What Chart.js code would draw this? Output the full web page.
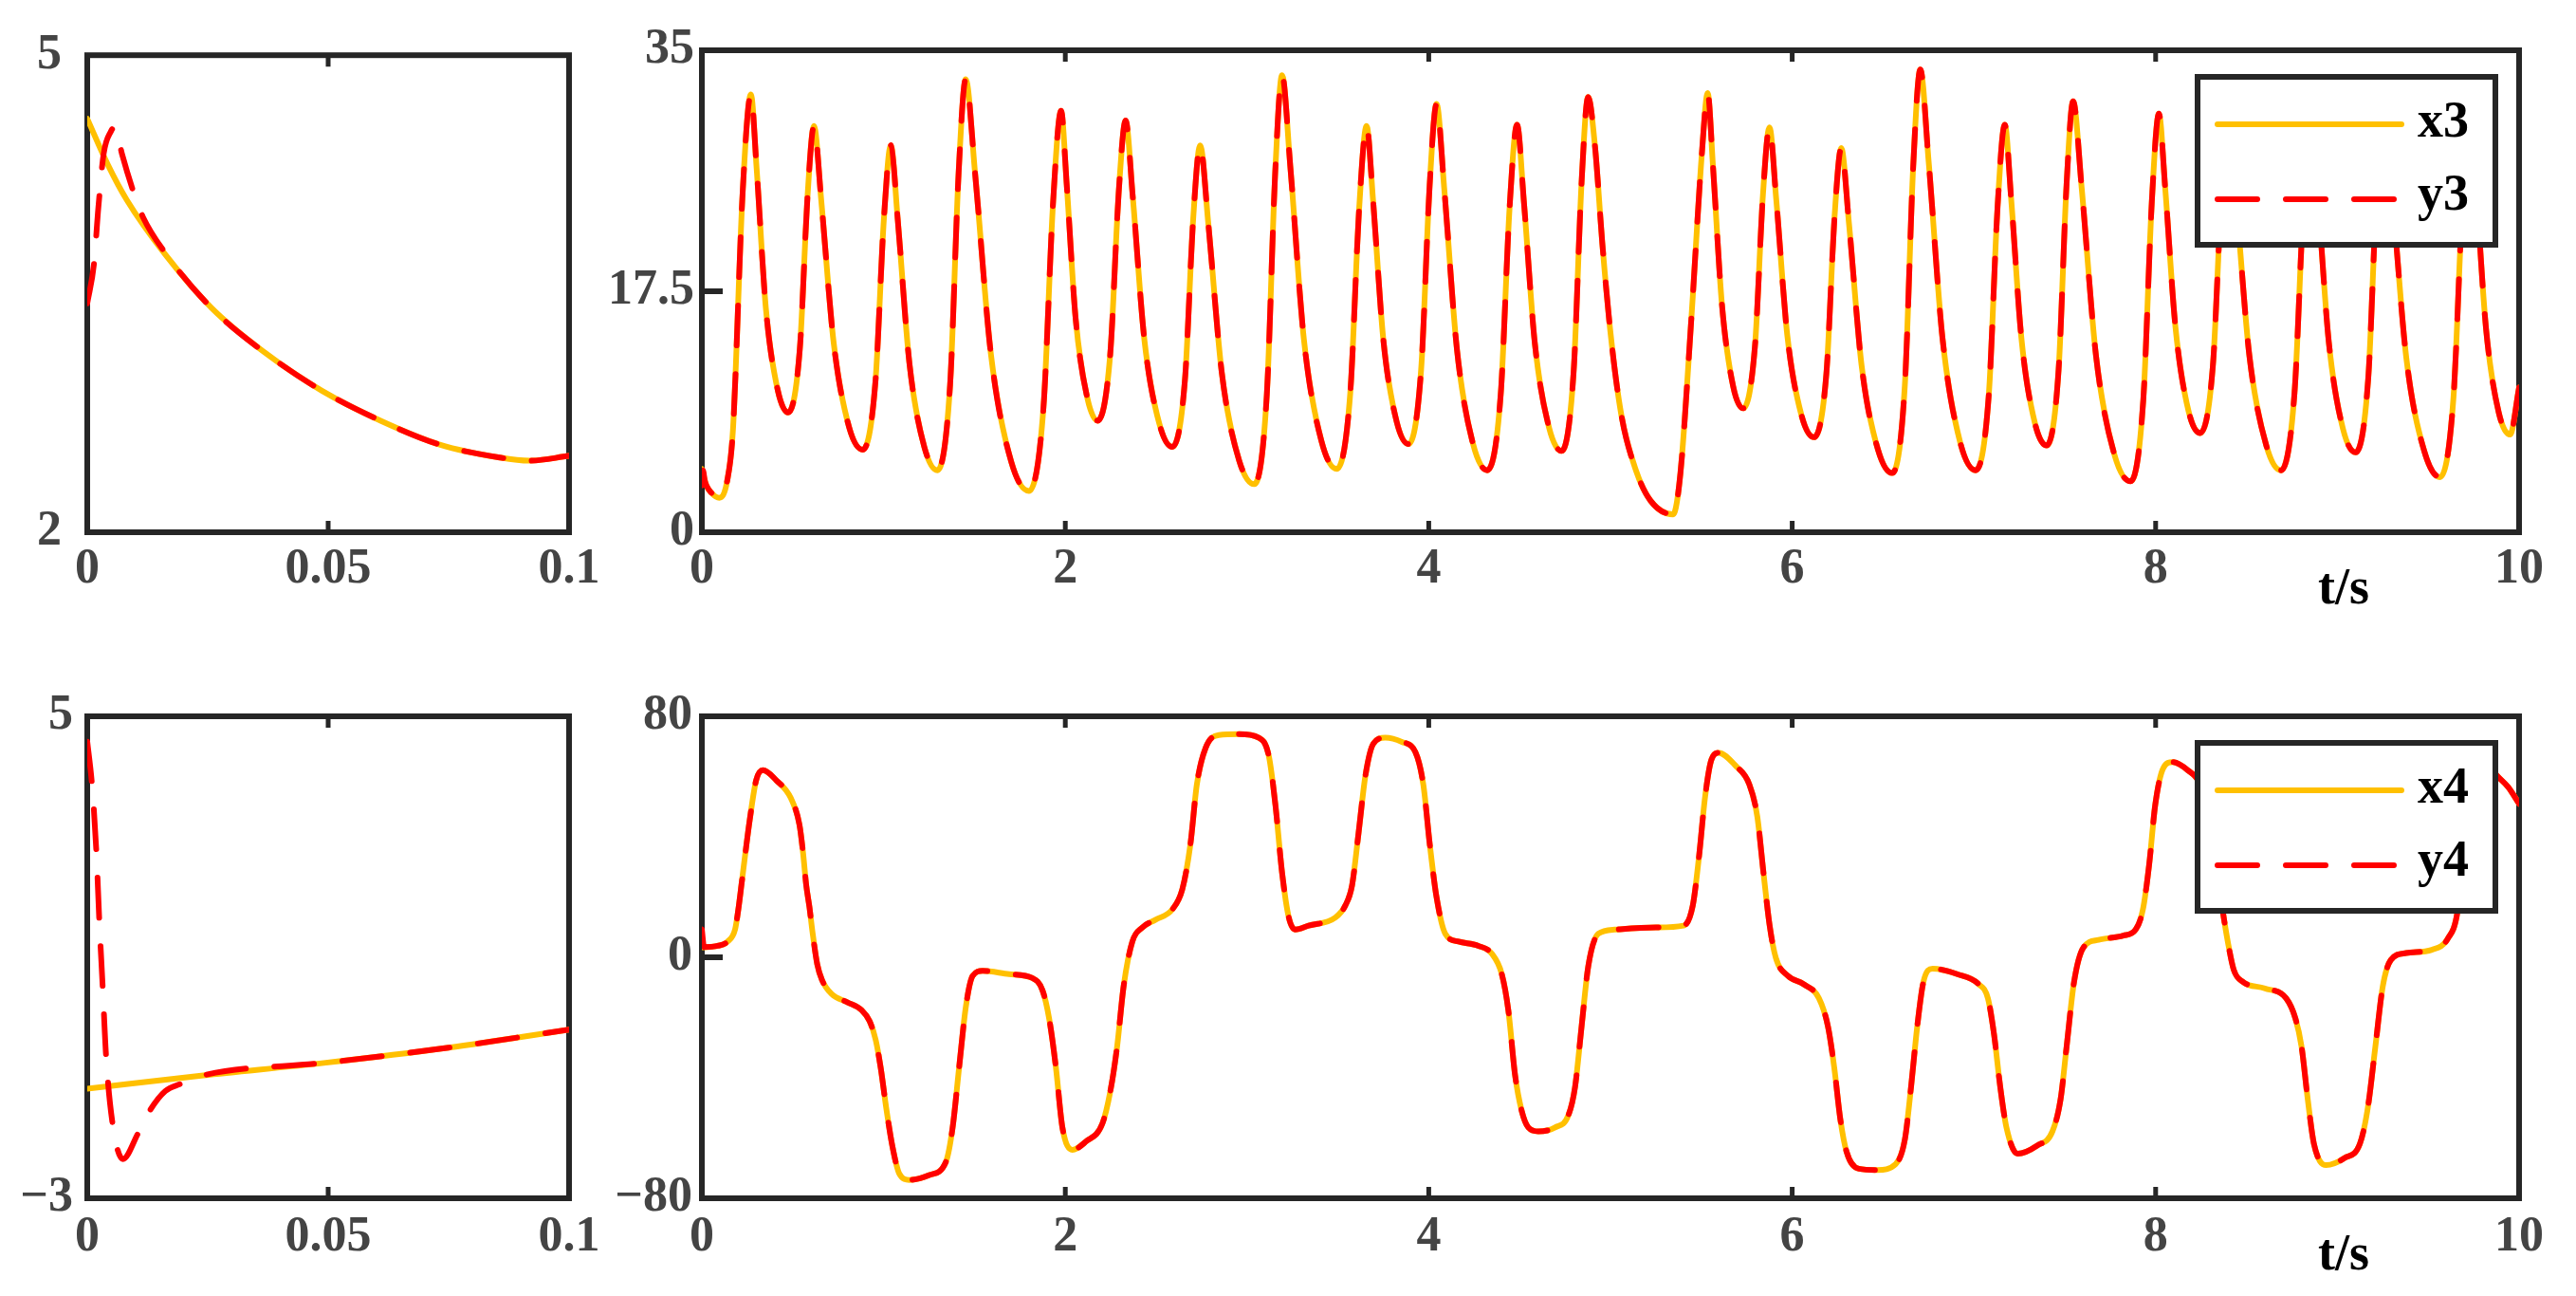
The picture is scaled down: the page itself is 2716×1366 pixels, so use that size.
<!DOCTYPE html>
<html>
<head>
<meta charset="utf-8">
<title>x3 / y3 and x4 / y4</title>
<script src="https://cdn.jsdelivr.net/npm/chart.js@4.4.1/dist/chart.umd.min.js"></script>
<style>
  html, body { margin: 0; padding: 0; background: #fff; }
  #wrap { position: relative; width: 2716px; height: 1366px; overflow: hidden; }
  canvas { position: absolute; }
</style>
</head>
<body>
<div id="wrap">
  <canvas id="zoom3" width="660" height="680" style="left:0;top:0"></canvas>
  <canvas id="full3" width="2076" height="680" style="left:640px;top:0"></canvas>
  <canvas id="zoom4" width="660" height="686" style="left:0;top:680px"></canvas>
  <canvas id="full4" width="2076" height="686" style="left:640px;top:680px"></canvas>
</div>
<script>
const YELLOW = '#FFC000';
const RED = '#FF0000';
const AXIS = '#262626';
const LABEL = '#444444';
const SERIF = "'Liberation Serif', 'Times New Roman', serif";

// tick values and labels
const xTicksZoom = [0, 0.05, 0.1];
const xLabelsZoom = ['0', '0.05', '0.1'];
const xTicksFull = [0, 2, 4, 6, 8, 10];
const xLabelsFull = ['0', '2', '4', '6', '8', '10'];
const yTicksZoom3 = [2, 5];
const yLabelsZoom3 = ['2', '5'];
const yTicksFull3 = [0, 17.5, 35];
const yLabelsFull3 = ['0', '17.5', '35'];
const yTicksZoom4 = [-3, 5];
const yLabelsZoom4 = ['\u22123', '5'];
const yTicksFull4 = [-80, 0, 80];
const yLabelsFull4 = ['\u221280', '0', '80'];

// x3 / y3, first 0.1 s
const tZoomX3 = [0, 0.0043, 0.0082, 0.0161, 0.0258, 0.0364, 0.0487, 0.061, 0.0733, 0.0856, 0.0917, 0.1];
const x3Zoom  = [4.60, 4.31, 4.09, 3.75, 3.41, 3.14, 2.89, 2.70, 2.55, 2.47, 2.45, 2.48];
const tZoomY3 = [0, 0.0014, 0.0023, 0.0034, 0.0049, 0.0058, 0.0072, 0.0096, 0.0116, 0.0161, 0.0258, 0.0364, 0.0487, 0.061, 0.0733, 0.0856, 0.0917, 0.1];
const y3Zoom  = [3.44, 3.69, 4.04, 4.38, 4.52, 4.55, 4.38, 4.14, 3.98, 3.76, 3.41, 3.14, 2.89, 2.70, 2.55, 2.47, 2.45, 2.48];

// x3 over 0..10 s
const tFull3 = [
  0, 0.025, 0.05, 0.096, 0.139, 0.171, 0.225,
  0.27, 0.301, 0.352, 0.418, 0.475, 0.539, 0.582,
  0.617, 0.657, 0.725, 0.811, 0.886, 0.955, 1.002,
  1.04, 1.078, 1.142, 1.224, 1.296, 1.366, 1.413,
  1.452, 1.504, 1.591, 1.703, 1.8, 1.88, 1.933,
  1.977, 2.007, 2.057, 2.122, 2.178, 2.247, 2.294,
  2.332, 2.371, 2.435, 2.517, 2.589, 2.658, 2.704,
  2.742, 2.787, 2.861, 2.957, 3.04, 3.109, 3.155,
  3.193, 3.238, 3.313, 3.41, 3.494, 3.568, 3.617,
  3.658, 3.693, 3.75, 3.824, 3.889, 3.958, 4.005,
  4.043, 4.085, 4.155, 4.244, 4.322, 4.396, 4.445,
  4.486, 4.523, 4.584, 4.662, 4.731, 4.797, 4.841,
  4.877, 4.915, 4.955, 5.0, 5.06, 5.14, 5.22, 5.345, 5.385, 5.446, 5.504,
  5.535, 5.564, 5.613, 5.675, 5.73, 5.795, 5.839,
  5.875, 5.912, 5.973, 6.051, 6.12, 6.188, 6.233,
  6.27, 6.312, 6.382, 6.472, 6.55, 6.62, 6.666,
  6.705, 6.751, 6.827, 6.925, 7.01, 7.082, 7.13,
  7.17, 7.205, 7.262, 7.336, 7.4, 7.466, 7.51,
  7.546, 7.593, 7.672, 7.774, 7.862, 7.932, 7.979,
  8.018, 8.052, 8.109, 8.181, 8.245, 8.315, 8.361,
  8.4, 8.444, 8.516, 8.609, 8.69, 8.764, 8.814,
  8.855, 8.892, 8.953, 9.031, 9.1, 9.17, 9.216,
  9.255, 9.302, 9.379, 9.478, 9.565, 9.639, 9.689,
  9.73, 9.763, 9.818, 9.888, 9.95, 10
];
const x3Full = [
  4.6, 3.4, 2.9, 2.5, 3.7, 7.4, 24.8,
  31.8, 26.5, 16.3, 10.3, 8.7, 13.3, 24.5,
  29.5, 24.1, 13.8, 7.6, 6.0, 10.9, 22.8,
  28.1, 22.7, 12.3, 6.2, 4.5, 10.7, 26.1,
  32.9, 26.0, 12.9, 5.1, 3.0, 9.1, 24.0,
  30.6, 25.4, 15.5, 9.7, 8.1, 12.9, 24.7,
  29.9, 24.4, 14.0, 7.9, 6.2, 11.0, 22.8,
  28.1, 22.4, 11.6, 5.2, 3.5, 10.0, 26.1,
  33.2, 26.6, 14.0, 6.6, 4.6, 10.1, 23.5,
  29.5, 24.2, 14.0, 8.0, 6.4, 11.8, 25.2,
  31.1, 25.0, 13.3, 6.4, 4.5, 10.0, 23.6,
  29.6, 24.1, 13.7, 7.6, 5.9, 11.6, 25.4,
  31.6, 28.0, 21.0, 14.5, 8.5, 4.5, 2.3, 1.3, 4.3, 15.7, 27.7,
  31.9, 26.6, 16.6, 10.6, 9.0, 13.5, 24.5,
  29.4, 24.2, 14.3, 8.5, 6.9, 11.5, 22.9,
  27.9, 22.5, 12.1, 6.0, 4.3, 10.7, 26.6,
  33.6, 26.9, 14.1, 6.5, 4.5, 10.0, 23.6,
  29.6, 24.2, 14.0, 7.9, 6.3, 11.8, 25.3,
  31.3, 25.0, 12.8, 5.6, 3.7, 9.6, 24.0,
  30.4, 25.1, 14.9, 8.8, 7.2, 12.1, 24.1,
  29.5, 23.8, 12.8, 6.3, 4.5, 10.1, 23.9,
  30.0, 24.4, 13.8, 7.5, 5.8, 11.2, 24.6,
  30.5, 24.4, 12.7, 5.9, 4.0, 9.8, 24.1,
  30.5, 25.1, 14.8, 8.7, 7.1, 10.5
];
// y3 differs from x3 only at the very start
const tHeadY3 = [0, 0.006, 0.016];
const y3Head  = [3.4, 4.5, 3.76];

// x4 / y4, first 0.1 s
const tZoomX4 = [0, 0.0241, 0.0495, 0.075, 0.1];
const x4Zoom  = [-1.18, -0.96, -0.75, -0.50, -0.20];
const tZoomY4 = [0, 0.001, 0.0019, 0.0025, 0.0032, 0.0039, 0.0052, 0.0074, 0.0105, 0.0131, 0.0162, 0.0194, 0.0241, 0.0495, 0.075, 0.1];
const y4Zoom  = [4.58, 3.85, 2.74, 1.61, 0.51, -0.63, -1.73, -2.35, -1.93, -1.53, -1.22, -1.10, -0.96, -0.75, -0.50, -0.20];

// x4 over 0..10 s
const tFull4 = [
  0, 0.087, 0.139, 0.183, 0.2, 0.218, 0.235, 0.263, 0.299, 0.336,
  0.409, 0.49, 0.537, 0.557, 0.574, 0.592, 0.609, 0.635, 0.661, 0.714,
  0.8, 0.879, 0.923, 0.957, 0.985, 1.014, 1.05, 1.087, 1.142, 1.252,
  1.343, 1.38, 1.416, 1.453, 1.49, 1.545, 1.691, 1.819, 1.874, 1.911,
  1.948, 1.984, 2.039, 2.113, 2.204, 2.248, 2.285, 2.321, 2.369, 2.424,
  2.497, 2.589, 2.644, 2.688, 2.724, 2.772, 2.845, 2.955, 3.065, 3.12,
  3.156, 3.193, 3.23, 3.266, 3.339, 3.486, 3.541, 3.578, 3.614, 3.651,
  3.695, 3.761, 3.852, 3.926, 3.97, 4.006, 4.043, 4.091, 4.164, 4.273,
  4.347, 4.402, 4.438, 4.475, 4.512, 4.548, 4.603, 4.695, 4.768, 4.805,
  4.841, 4.878, 4.933, 5.024, 5.25, 5.402, 5.453, 5.487, 5.521, 5.555,
  5.595, 5.69, 5.764, 5.808, 5.842, 5.876, 5.91, 5.977, 6.062, 6.147,
  6.197, 6.231, 6.265, 6.299, 6.367, 6.468, 6.57, 6.62, 6.654, 6.688,
  6.722, 6.773, 6.908, 7.026, 7.077, 7.111, 7.145, 7.179, 7.24, 7.348,
  7.432, 7.477, 7.51, 7.551, 7.602, 7.686, 7.822, 7.89, 7.93, 7.964,
  7.998, 8.042, 8.093, 8.177, 8.245, 8.3, 8.34, 8.37, 8.397, 8.43,
  8.482, 8.6, 8.718, 8.769, 8.803, 8.837, 8.871, 8.938, 9.04, 9.124,
  9.168, 9.209, 9.25, 9.294, 9.378, 9.52, 9.608, 9.661, 9.7, 9.74,
  9.79, 9.84, 9.878, 9.94, 10
];
const x4Full = [
  3.3, 3.8, 5.1, 9.3, 15.6, 24.1, 32.4, 45.4, 58.8, 62.1,
  58.8, 52.8, 44.0, 34.6, 24.1, 16.7, 8.3, -2.3, -7.5, -12.2,
  -14.9, -17.5, -21.2, -27.5, -37.0, -49.8, -63.2, -71.9, -73.9, -72.3,
  -67.9, -56.5, -36.4, -16.3, -6.2, -4.5, -5.6, -6.9, -10.9, -20.3,
  -36.4, -56.5, -63.9, -61.2, -55.2, -44.4, -29.7, -9.6, 5.2, 9.9,
  12.5, 15.9, 22.6, 37.3, 57.4, 69.5, 73.8, 74.1, 72.9, 66.8,
  50.7, 28.0, 13.2, 9.2, 10.5, 13.2, 17.2, 23.9, 41.4, 60.1,
  70.9, 72.9, 71.5, 68.2, 57.4, 37.3, 19.9, 7.8, 5.2, 3.8,
  1.2, -5.6, -17.6, -39.1, -51.1, -56.5, -57.8, -56.5, -52.5, -43.1,
  -23.0, -2.9, 7.8, 9.2, 9.9, 10.5, 17.2, 33.3, 53.4, 65.5,
  67.9, 63.5, 57.4, 46.7, 28.0, 10.5, -0.2, -6.2, -8.9, -13.6,
  -23.0, -36.4, -53.8, -64.5, -70.2, -70.6, -68.6, -60.5, -43.1, -23.0,
  -8.2, -3.8, -5.6, -8.9, -13.6, -25.7, -43.1, -56.5, -65.2, -62.5,
  -57.8, -47.1, -29.7, -8.2, 3.2, 5.8, 7.2, 9.2, 15.9, 30.6,
  50.7, 62.8, 64.8, 62.1, 57.5, 46.0, 28.0, 15.1, 5.2, -4.2,
  -8.2, -10.3, -13.6, -20.3, -29.7, -47.1, -61.9, -69.0, -66.6, -61.9,
  -49.8, -29.7, -9.6, -0.9, 1.4, 2.5, 6.2, 15.1, 38.0, 58.0,
  64.5, 63.0, 60.3, 56.5, 51.0
];
// y4 differs from x4 only at the very start
const tHeadY4 = [0, 0.012];
const y4Head  = [9.3, 3.4];

function pts(t, v) {
  return t.map((x, i) => ({ x: x, y: v[i] }));
}

// box, inward ticks, boxed legend and the t/s label
const frame = {
  id: 'frame',
  beforeDatasetsDraw(chart) {
    const { ctx, chartArea: a } = chart;
    const x = chart.scales.x, y = chart.scales.y;
    ctx.save();
    ctx.strokeStyle = AXIS;
    ctx.lineCap = 'butt';
    ctx.lineWidth = 5;
    x.ticks.forEach(t => {
      if (t.value <= x.min || t.value >= x.max) return;
      const px = x.getPixelForValue(t.value);
      ctx.beginPath();
      ctx.moveTo(px, a.bottom); ctx.lineTo(px, a.bottom - 12);
      ctx.moveTo(px, a.top); ctx.lineTo(px, a.top + 12);
      ctx.stroke();
    });
    ctx.lineWidth = 6;
    y.ticks.forEach(t => {
      if (t.value <= y.min || t.value >= y.max) return;
      const py = y.getPixelForValue(t.value);
      ctx.beginPath();
      ctx.moveTo(a.left, py); ctx.lineTo(a.left + 22, py);
      ctx.stroke();
    });
    ctx.strokeRect(a.left, a.top, a.right - a.left, a.bottom - a.top);
    ctx.restore();
  },
  afterDatasetsDraw(chart, args, opts) {
    if (!opts.showKey) return;
    const { ctx, chartArea: a } = chart;
    const bw = 314, bh = 177;
    const bx = a.right - 25 - bw, by = a.top + 28;
    ctx.save();
    ctx.fillStyle = '#fff';
    ctx.fillRect(bx, by, bw, bh);
    ctx.strokeStyle = AXIS;
    ctx.lineWidth = 6;
    ctx.strokeRect(bx, by, bw, bh);
    chart.data.datasets.forEach((ds, i) => {
      const ly = by + 50 + i * 79;
      ctx.beginPath();
      ctx.setLineDash(ds.borderDash || []);
      ctx.lineCap = 'round';
      ctx.strokeStyle = ds.borderColor;
      ctx.lineWidth = ds.borderWidth;
      ctx.moveTo(bx + 21, ly);
      ctx.lineTo(bx + 215, ly);
      ctx.stroke();
      ctx.setLineDash([]);
      ctx.fillStyle = '#000';
      ctx.font = 'bold 54px ' + SERIF;
      ctx.textAlign = 'left';
      ctx.textBaseline = 'alphabetic';
      ctx.fillText(ds.label, bx + 232, by + 63 + i * 77);
    });
    ctx.restore();
  },
  afterDraw(chart, args, opts) {
    if (!opts.xTitle) return;
    const { ctx, chartArea: a } = chart;
    ctx.save();
    ctx.fillStyle = '#000';
    ctx.font = 'bold 54px ' + SERIF;
    ctx.textAlign = 'center';
    ctx.textBaseline = 'alphabetic';
    ctx.fillText(opts.xTitle, a.right - 185, a.bottom + 75);
    ctx.restore();
  }
};

function makeChart(id, c) {
  const tickFont = { family: SERIF, size: 52, weight: 'bold' };
  return new Chart(document.getElementById(id), {
    type: 'line',
    data: {
      datasets: [
        { label: c.names[0], data: c.first, borderColor: YELLOW, borderWidth: 6, order: 2 },
        { label: c.names[1], data: c.second, borderColor: RED, borderWidth: 6, borderDash: [42, 30], order: 1 }
      ]
    },
    options: {
      responsive: false,
      animation: false,
      devicePixelRatio: 1,
      layout: { autoPadding: false, padding: { left: 0, top: c.top, right: 60, bottom: 0 } },
      elements: {
        point: { radius: 0, hoverRadius: 0 },
        line: { cubicInterpolationMode: 'monotone', borderCapStyle: 'round', borderJoinStyle: 'round' }
      },
      plugins: {
        legend: { display: false },
        tooltip: { enabled: false },
        frame: { showKey: c.showKey, xTitle: c.xTitle }
      },
      scales: {
        x: {
          type: 'linear', min: c.xMin, max: c.xMax,
          grid: { display: false, drawTicks: false },
          border: { display: false },
          afterBuildTicks: s => { s.ticks = c.xTicks.map(v => ({ value: v })); },
          afterFit: s => { s.height = c.xH; },
          ticks: {
            autoSkip: false, maxRotation: 0, minRotation: 0, padding: c.xPad,
            color: LABEL, font: tickFont,
            callback: (v, i) => c.xLabels[i]
          }
        },
        y: {
          type: 'linear', min: c.yMin, max: c.yMax,
          grid: { display: false, drawTicks: false },
          border: { display: false },
          afterBuildTicks: s => { s.ticks = c.yTicks.map(v => ({ value: v })); },
          afterFit: s => { s.width = c.yW; },
          ticks: {
            autoSkip: false, padding: c.yPad,
            color: LABEL, font: tickFont,
            callback: (v, i) => c.yLabels[i]
          }
        }
      }
    },
    plugins: [frame]
  });
}

makeChart('zoom3', {
  names: ['x3', 'y3'],
  first: pts(tZoomX3, x3Zoom),
  second: pts(tZoomY3, y3Zoom),
  xMin: 0, xMax: 0.1, xTicks: xTicksZoom, xLabels: xLabelsZoom,
  yMin: 2, yMax: 5, yTicks: yTicksZoom3, yLabels: yLabelsZoom3,
  top: 53, xH: 119, yW: 92, xPad: 8, yPad: 27
});

makeChart('full3', {
  names: ['x3', 'y3'],
  first: pts(tFull3, x3Full),
  second: pts(tHeadY3.concat(tFull3.slice(1)), y3Head.concat(x3Full.slice(1))),
  xMin: 0, xMax: 10, xTicks: xTicksFull, xLabels: xLabelsFull,
  yMin: 0, yMax: 35, yTicks: yTicksFull3, yLabels: yLabelsFull3,
  top: 53, xH: 119, yW: 100, xPad: 8, yPad: 8,
  showKey: true, xTitle: 't/s'
});

makeChart('zoom4', {
  names: ['x4', 'y4'],
  first: pts(tZoomX4, x4Zoom),
  second: pts(tZoomY4, y4Zoom),
  xMin: 0, xMax: 0.1, xTicks: xTicksZoom, xLabels: xLabelsZoom,
  yMin: -3, yMax: 5, yTicks: yTicksZoom4, yLabels: yLabelsZoom4,
  top: 75, xH: 103, yW: 92, xPad: 10, yPad: 15
});

makeChart('full4', {
  names: ['x4', 'y4'],
  first: pts(tFull4, x4Full),
  second: pts(tHeadY4.concat(tFull4.slice(1)), y4Head.concat(x4Full.slice(1))),
  xMin: 0, xMax: 10, xTicks: xTicksFull, xLabels: xLabelsFull,
  yMin: -80, yMax: 80, yTicks: yTicksFull4, yLabels: yLabelsFull4,
  top: 75, xH: 103, yW: 100, xPad: 10, yPad: 10,
  showKey: true, xTitle: 't/s'
});
</script>
</body>
</html>
